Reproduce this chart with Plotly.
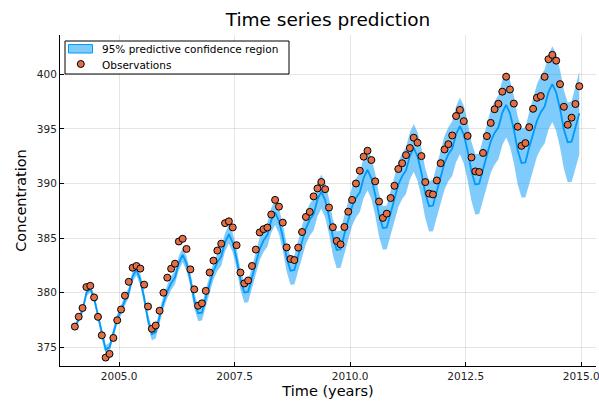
import plotly.graph_objects as go

# ---------------- data ----------------
years = list(range(2004, 2015))
months = list(range(1, 13))

# Observed monthly CO2 concentration (ppm), Jan..Dec for each year 2004-2014
observations = [
    376.9, 377.8, 378.6, 380.52, 380.63, 379.57, 377.79, 376.1, 374.06, 374.4, 375.86, 377.48,
    378.46, 379.73, 381.0, 382.29, 382.45, 382.21, 380.74, 378.74, 376.70, 377.00, 378.35, 380.0,
    381.38, 382.20, 382.66, 384.69, 384.94, 384.01, 382.14, 380.31, 378.81, 379.03, 380.17, 381.85,
    382.94, 383.86, 384.49, 386.37, 386.54, 385.98, 384.35, 381.85, 380.85, 381.12, 382.45, 383.95,
    385.52, 385.82, 385.97, 387.16, 388.50, 387.88, 386.42, 384.15, 383.09, 382.99, 384.13, 385.56,
    386.94, 387.40, 388.82, 389.55, 390.14, 389.48, 387.8, 386.0, 384.74, 384.43, 386.02, 387.42,
    388.5, 390.0, 391.17, 392.46, 393.00, 392.15, 390.20, 388.35, 386.85, 387.24, 388.67, 389.79,
    391.33, 391.86, 392.60, 393.25, 394.19, 393.74, 392.51, 390.13, 389.08, 389.00, 390.28, 391.86,
    393.12, 393.6, 394.40, 396.18, 396.74, 395.71, 394.36, 392.39, 391.11, 391.05, 392.8, 394.34,
    395.55, 396.80, 397.3, 398.41, 399.78, 398.61, 397.32, 395.20, 393.45, 393.70, 395.16, 396.84,
    397.85, 398.01, 399.77, 401.38, 401.78, 401.25, 399.10, 397.03, 395.38, 396.03, 397.28, 398.91,
]

# Predictive mean (ppm)
pred_mean = [
    376.8, 377.6, 378.4, 380.0, 380.4, 379.5, 377.9, 376.1, 374.8, 375.0, 376.3, 377.6,
    378.4, 379.3, 380.0, 381.5, 382.1, 381.2, 379.5, 377.5, 376.2, 376.4, 377.8, 379.1,
    380.1, 380.88, 381.4, 382.72, 383.46, 382.68, 381.2, 379.3, 378.12, 378.18, 379.57, 380.78,
    382.0, 382.78, 383.3, 384.62, 385.36, 384.58, 383.1, 381.2, 380.02, 380.08, 381.47, 382.68,
    384.0, 384.78, 385.3, 386.62, 387.36, 386.58, 385.1, 383.2, 382.02, 382.08, 383.47, 384.68,
    385.9, 386.68, 387.2, 388.52, 389.26, 388.48, 387.0, 385.1, 383.92, 383.98, 385.37, 386.58,
    387.9, 388.68, 389.2, 390.52, 391.26, 390.48, 389.0, 387.1, 385.92, 385.98, 387.37, 388.58,
    389.9, 390.68, 391.2, 392.52, 393.26, 392.48, 391.0, 389.1, 387.92, 387.98, 389.37, 390.58,
    391.9, 392.68, 393.2, 394.52, 395.26, 394.48, 393.0, 391.1, 389.92, 389.98, 391.37, 392.58,
    393.85, 394.63, 395.15, 396.47, 397.21, 396.43, 394.95, 393.05, 391.87, 391.93, 393.32, 394.53,
    395.75, 396.53, 397.05, 398.37, 399.11, 398.33, 396.85, 394.95, 393.77, 393.83, 395.22, 396.43,
]

# Half-width of the 95% predictive band (ppm)
band_halfwidth = [
    0.30, 0.31, 0.33, 0.34, 0.35, 0.36, 0.38, 0.39, 0.40, 0.42, 0.43, 0.45,
    0.46, 0.48, 0.49, 0.50, 0.52, 0.53, 0.55, 0.56, 0.57, 0.58, 0.59, 0.60,
    0.61, 0.62, 0.63, 0.64, 0.66, 0.67, 0.68, 0.70, 0.71, 0.72, 0.74, 0.76,
    0.78, 0.80, 0.82, 0.84, 0.86, 0.88, 0.90, 0.92, 0.94, 0.96, 0.98, 1.00,
    1.03, 1.06, 1.09, 1.12, 1.15, 1.18, 1.21, 1.25, 1.29, 1.33, 1.37, 1.41,
    1.44, 1.47, 1.50, 1.53, 1.56, 1.59, 1.62, 1.65, 1.68, 1.70, 1.72, 1.75,
    1.77, 1.79, 1.81, 1.84, 1.87, 1.90, 1.93, 1.96, 1.99, 2.01, 2.03, 2.06,
    2.08, 2.10, 2.13, 2.16, 2.19, 2.22, 2.25, 2.28, 2.31, 2.34, 2.37, 2.41,
    2.44, 2.47, 2.51, 2.55, 2.59, 2.63, 2.67, 2.71, 2.75, 2.78, 2.81, 2.84,
    2.87, 2.90, 2.93, 2.96, 3.00, 3.04, 3.08, 3.12, 3.16, 3.20, 3.24, 3.28,
    3.31, 3.35, 3.39, 3.43, 3.47, 3.51, 3.55, 3.60, 3.65, 3.70, 3.75, 3.80,
]

x_tickvals = [2005.0, 2007.5, 2010.0, 2012.5, 2015.0]
x_ticktext = ["2005.0", "2007.5", "2010.0", "2012.5", "2015.0"]
y_tickvals = [375, 380, 385, 390, 395, 400]
y_ticktext = ["375", "380", "385", "390", "395", "400"]
legend_labels = ["95% predictive confidence region", "Observations"]

# ---------------- figure ----------------
time = [y + (m - 0.5) / 12.0 for y in years for m in months]
upper = [m + h for m, h in zip(pred_mean, band_halfwidth)]
lower = [m - h for m, h in zip(pred_mean, band_halfwidth)]

FONT = "DejaVu Sans"
BLUE = "#009AFA"
BAND = "rgba(0,154,250,0.5)"
ORANGE = "#E36F47"

W, H = 599, 401
ML, MR, MT, MB = 60, 3, 35, 35
PW, PH = W - ML - MR, H - MT - MB


def px(xp):
    return (xp - ML) / PW


def py(yp):
    return (H - MB - yp) / PH


fig = go.Figure()
fig.add_trace(go.Scatter(
    x=time + time[::-1], y=upper + lower[::-1],
    fill="toself", fillcolor=BAND, line=dict(width=0),
    mode="lines", showlegend=False, hoverinfo="skip"))
fig.add_trace(go.Scatter(
    x=time, y=pred_mean, mode="lines",
    line=dict(color=BLUE, width=1.8), showlegend=False))
fig.add_trace(go.Scatter(
    x=time, y=observations, mode="markers", name=legend_labels[1], showlegend=False,
    marker=dict(size=7, color=ORANGE, line=dict(color="black", width=1))))

axis_common = dict(
    showgrid=True, gridcolor="rgba(0,0,0,0.1)", gridwidth=1,
    showline=True, linecolor="black", linewidth=1,
    ticks="inside", ticklen=4, tickcolor="black", tickwidth=1,
    zeroline=False, mirror=False, ticklabeloverflow="allow",
    tickfont=dict(family=FONT, size=10.5, color="#222"),
)

# Legend drawn as shapes + text (box 65..289 x 41..74 px)
shapes = [
    dict(type="rect", xref="paper", yref="paper",
         x0=px(65), x1=px(289), y0=py(74), y1=py(41),
         fillcolor="white", line=dict(color="black", width=1), layer="above"),
    dict(type="rect", xref="paper", yref="paper",
         x0=px(68.5), x1=px(92.5), y0=py(53), y1=py(44.5),
         fillcolor=BAND, line=dict(color=BLUE, width=1), layer="above"),
    dict(type="circle", xref="paper", yref="paper",
         x0=px(77.3), x1=px(84.3), y0=py(67.5), y1=py(60.5),
         fillcolor=ORANGE, line=dict(color="black", width=1), layer="above"),
]
annotations = [
    dict(text=legend_labels[0], xref="paper", yref="paper", x=px(100), y=py(49),
         xanchor="left", yanchor="middle", showarrow=False,
         font=dict(family=FONT, size=10.5, color="black")),
    dict(text=legend_labels[1], xref="paper", yref="paper", x=px(100), y=py(64.5),
         xanchor="left", yanchor="middle", showarrow=False,
         font=dict(family=FONT, size=10.5, color="black")),
]

fig.update_layout(
    width=W, height=H,
    margin=dict(l=ML, r=MR, t=MT, b=MB, autoexpand=False),
    paper_bgcolor="white", plot_bgcolor="white",
    font=dict(family=FONT, color="black"),
    showlegend=False,
    title=dict(text="Time series prediction", x=0.5, xref="paper",
               y=1 - 20 / H, yref="container", yanchor="middle",
               font=dict(family=FONT, size=18.5, color="black")),
    xaxis=dict(range=[2003.72, 2015.32], tickvals=x_tickvals, ticktext=x_ticktext,
               title=dict(text="Time (years)", font=dict(family=FONT, size=14.5), standoff=5),
               automargin=False, **axis_common),
    yaxis=dict(range=[373.29, 403.6], tickvals=y_tickvals, ticktext=y_ticktext,
               title=dict(text="Concentration", font=dict(family=FONT, size=14.5), standoff=6),
               automargin=False, **axis_common),
    shapes=shapes,
    annotations=annotations,
)

fig.write_html("out.html",
               config={"displayModeBar": False},
               post_script="document.body.style.margin='0';document.body.style.padding='0';")
